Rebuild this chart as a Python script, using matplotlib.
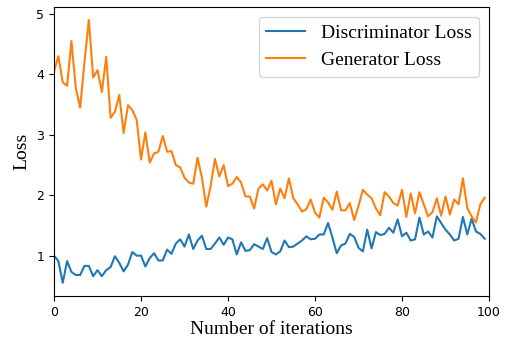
import numpy as np
import matplotlib
matplotlib.use("Agg")
import matplotlib.pyplot as plt

# Loss values, one per iteration (0..99)
iterations = np.arange(100)

disc_loss = [
    1.00, 0.91, 0.55, 0.91, 0.73, 0.68, 0.68, 0.83, 0.83, 0.66,
    0.76, 0.66, 0.76, 0.81, 0.99, 0.88, 0.74, 0.85, 1.06, 1.00,
    1.00, 0.82, 0.96, 1.04, 0.92, 0.92, 1.10, 1.03, 1.20, 1.27,
    1.15, 1.35, 1.11, 1.25, 1.33, 1.11, 1.11, 1.20, 1.30, 1.18,
    1.30, 1.27, 1.02, 1.22, 1.08, 1.09, 1.19, 1.15, 1.11, 1.29,
    1.06, 1.02, 1.07, 1.25, 1.14, 1.15, 1.20, 1.25, 1.32, 1.27,
    1.28, 1.35, 1.35, 1.54, 1.30, 1.04, 1.17, 1.20, 1.36, 1.31,
    1.13, 1.07, 1.43, 1.12, 1.39, 1.34, 1.36, 1.46, 1.38, 1.60,
    1.32, 1.38, 1.25, 1.27, 1.63, 1.35, 1.40, 1.30, 1.65, 1.54,
    1.43, 1.35, 1.25, 1.28, 1.64, 1.35, 1.61, 1.40, 1.36, 1.28,
]

gen_loss = [
    4.05, 4.30, 3.87, 3.81, 4.55, 3.78, 3.45, 4.20, 4.90, 3.95,
    4.07, 3.71, 4.29, 3.28, 3.38, 3.66, 3.03, 3.49, 3.41, 3.25,
    2.59, 3.04, 2.54, 2.69, 2.72, 2.98, 2.72, 2.73, 2.50, 2.46,
    2.29, 2.21, 2.19, 2.62, 2.29, 1.81, 2.15, 2.60, 2.31, 2.50,
    2.15, 2.19, 2.30, 2.21, 1.98, 1.98, 1.78, 2.11, 2.18, 2.08,
    2.24, 1.85, 2.11, 1.95, 2.28, 1.95, 1.85, 1.73, 1.77, 1.93,
    1.71, 1.63, 1.96, 1.88, 1.76, 2.06, 1.75, 1.75, 1.87, 1.59,
    1.82, 2.09, 2.01, 1.95, 1.78, 1.67, 2.05, 1.98, 1.87, 1.83,
    2.09, 1.64, 2.03, 1.70, 2.05, 1.85, 1.65, 1.72, 1.95, 1.66,
    1.98, 1.68, 1.93, 1.85, 2.28, 1.79, 1.65, 1.55, 1.85, 1.96,
]

serif = ["Liberation Serif", "DejaVu Serif"]

fig = plt.figure(figsize=(5.16, 3.41), dpi=100)
ax = fig.add_axes([0.1047, 0.132, 0.843, 0.848])

ax.plot(iterations, disc_loss, label="Discriminator Loss")
ax.plot(iterations, gen_loss, label="Generator Loss")

ax.set_xlim(0, 100)
ax.tick_params(labelsize=9)
ax.set_xlabel("Number of iterations", family=serif, fontsize=14, labelpad=2)
ax.set_ylabel("Loss", family=serif, fontsize=14)
ax.legend(prop={"family": serif, "size": 14}, loc="upper right")

fig.savefig("out.png", dpi=100)
